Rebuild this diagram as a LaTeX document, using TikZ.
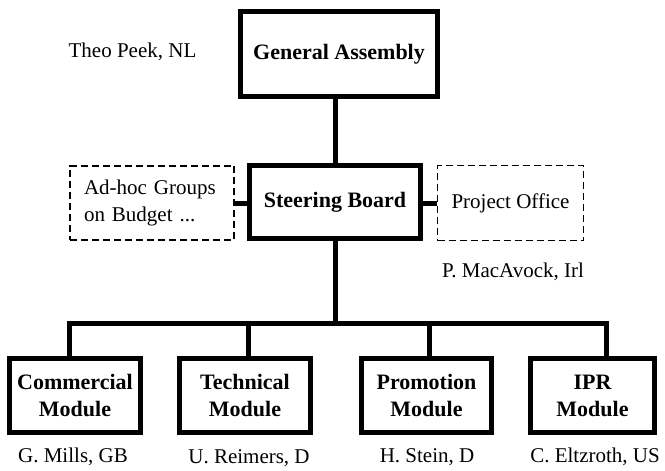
\documentclass[tikz,border=0pt]{standalone}
\usepackage{fontspec}
\setmainfont{Liberation Serif}
\begin{document}
\begin{tikzpicture}[x=1pt,y=-1pt,
  main/.style={draw, line width=5.5pt, inner sep=0pt, align=center,
    font=\fontsize{22}{27}\selectfont\bfseries},
  aux/.style={draw, dash pattern=on 7pt off 4pt, line width=1.8pt, inner sep=0pt,
    font=\fontsize{21}{27}\selectfont},
  conn/.style={line width=5pt},
  lbl/.style={font=\fontsize{21}{27}\selectfont, inner sep=0pt}]
\useasboundingbox (0,0) rectangle (665,471);

% main boxes
\node[main, minimum width=197pt, minimum height=85pt] (ga) at (339,54) {General Assembly};
\node[main, minimum width=171pt, minimum height=73pt] (sb) at (335,202) {Steering Board};
\node[aux, text width=136pt, align=left, inner xsep=14pt, minimum height=74.5pt] (adhoc) at (152,203) {Ad-hoc Groups\\on Budget ...};
\node[aux, minimum width=146pt, minimum height=75pt] (po) at (510.5,203) {Project Office};

% modules
\node[main, minimum width=131pt, minimum height=74pt] (com) at (75,395.5) {Commercial\\Module};
\node[main, minimum width=131pt, minimum height=74pt] (tec) at (245,395.5) {Technical\\Module};
\node[main, minimum width=130pt, minimum height=74pt] (pro) at (426.5,395.5) {Promotion\\Module};
\node[main, minimum width=124pt, minimum height=74pt] (ipr) at (592.5,395.5) {IPR\\Module};

% labels
\node[lbl] (lga) at (132.5,52) {Theo Peek, NL};
\node[lbl] (lsb) at (513,272) {P. MacAvock, Irl};
\node[lbl] (lcom) at (73,457) {G. Mills, GB};
\node[lbl] (ltec) at (249,458) {U. Reimers, D};
\node[lbl] (lpro) at (427,457) {H. Stein, D};
\node[lbl] (lipr) at (595,457) {C. Eltzroth, US};

% connectors
\coordinate (bus) at (335,323);
\coordinate (b1) at (69,323);
\coordinate (b2) at (248,323);
\coordinate (b3) at (429,323);
\coordinate (b4) at (606,323);
\draw[conn] (sb.north) -- (sb.north |- ga.south);
\draw[conn] (adhoc.east) -- (adhoc.east -| sb.west);
\draw[conn] (po.west) -- (po.west -| sb.east);
\draw[conn] (sb.south) -- (bus);
\draw[conn] (b1 |- com.north) -- (b1) -- (b4) -- (b4 |- ipr.north);
\draw[conn] (b2) -- (b2 |- tec.north);
\draw[conn] (b3) -- (b3 |- pro.north);
\end{tikzpicture}
\end{document}
